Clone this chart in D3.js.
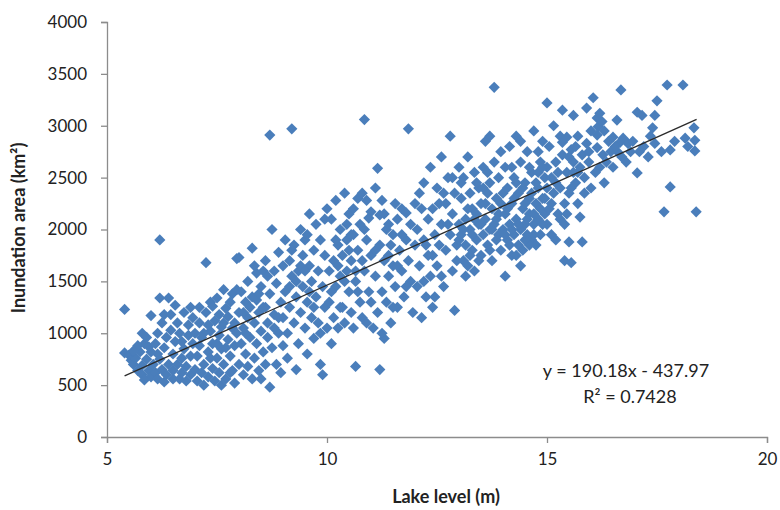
<!DOCTYPE html>
<html>
<head>
<meta charset="utf-8">
<script src="https://cdn.jsdelivr.net/npm/d3@7"></script>
<style>
  body { margin: 0; background: #fff; }
  svg text { font-family: Lato, "Liberation Sans", sans-serif; fill: #222; }
</style>
</head>
<body>
<svg id="chart" width="780" height="510"></svg>
<script>
// tick values
var xTicks = [5, 10, 15, 20];
var yTicks = [0, 500, 1000, 1500, 2000, 2500, 3000, 3500, 4000];

// linear fit reported on the chart
var fitSlope = 190.18;
var fitIntercept = -437.97;
var fitR2 = 0.7428;
var fitRange = [5.4, 18.4];

// [lake level (m), inundation area (km2)], by 1 m bands
var band5 = [[5.4,1230],[5.4,810],[5.5,790],[5.55,740],[5.6,700],[5.65,760],[5.7,640],[5.75,820],[5.8,690],[5.8,600],[5.85,900],[5.9,750],[5.9,960],[5.95,640],[6.0,580],[6.0,820],[5.7,880],[5.6,830],[5.85,550],[5.95,870],[6.0,1170],[5.8,1000]];
var band6 = [[6.05,700],[6.1,620],[6.1,900],[6.15,560],[6.15,1000],[6.2,750],[6.2,1900],[6.2,1340],[6.25,650],[6.25,1100],[6.3,530],[6.3,860],[6.35,960],[6.35,600],[6.4,1340],[6.4,700],[6.45,1180],[6.45,1030],[6.5,560],[6.5,800],[6.5,640],[6.55,920],[6.6,700],[6.6,1100],[6.65,560],[6.65,1000],[6.7,760],[6.7,620],[6.75,850],[6.75,1200],[6.8,540],[6.8,680],[6.85,980],[6.85,1080],[6.9,600],[6.9,780],[6.95,900],[6.95,1150],[7.0,650],[7.0,1000],[6.3,1180],[6.55,1270],[6.15,800],[6.7,920],[6.9,1250]];
var band7 = [[7.05,540],[7.05,780],[7.1,880],[7.1,1100],[7.15,620],[7.15,960],[7.2,500],[7.2,700],[7.25,1680],[7.25,1200],[7.3,820],[7.3,580],[7.35,1020],[7.35,1300],[7.4,660],[7.4,900],[7.45,540],[7.45,1120],[7.5,1340],[7.5,760],[7.55,980],[7.55,620],[7.6,1060],[7.6,850],[7.65,1420],[7.65,700],[7.7,560],[7.7,1240],[7.75,940],[7.75,1160],[7.8,780],[7.8,620],[7.85,1050],[7.85,1380],[7.9,880],[7.9,520],[7.95,1720],[7.95,1420],[7.95,1000],[8.0,1730],[8.0,700],[8.0,1200],[7.2,1000],[7.4,1260],[7.6,500],[7.8,1300],[7.1,1250],[7.3,1080],[7.55,1180],[7.7,860],[7.85,640],[7.5,900],[7.35,760],[7.65,1100],[7.9,1100]];
var band8 = [[8.05,1400],[8.05,900],[8.1,600],[8.1,1050],[8.15,1300],[8.15,800],[8.2,1150],[8.2,680],[8.25,960],[8.3,1820],[8.3,1350],[8.3,560],[8.35,1100],[8.35,760],[8.4,1580],[8.4,1320],[8.4,900],[8.45,1200],[8.45,640],[8.5,1020],[8.5,1450],[8.55,820],[8.55,1600],[8.6,1250],[8.6,700],[8.65,1100],[8.65,960],[8.7,2910],[8.7,480],[8.7,1380],[8.75,2000],[8.75,860],[8.8,1180],[8.8,1600],[8.85,700],[8.85,1480],[8.9,1000],[8.9,1780],[8.95,1300],[8.95,620],[9.0,1150],[9.0,1650],[9.0,880],[8.2,1500],[8.5,560],[8.6,1700],[8.25,1250],[8.45,1380],[8.8,1050],[8.15,1000],[8.65,1550],[8.9,1150],[8.35,1650],[8.1,1200],[8.55,1250]];
var band9 = [[9.05,1900],[9.05,1400],[9.1,1000],[9.1,760],[9.15,1250],[9.15,1700],[9.2,2970],[9.2,1550],[9.25,1100],[9.25,1850],[9.3,1350],[9.3,650],[9.35,1600],[9.35,900],[9.4,1200],[9.4,2000],[9.45,1450],[9.45,1750],[9.5,1050],[9.5,1900],[9.55,1300],[9.55,800],[9.6,1650],[9.6,2150],[9.65,1150],[9.65,1500],[9.7,1800],[9.7,950],[9.75,1350],[9.75,2050],[9.8,1600],[9.8,1100],[9.85,1900],[9.85,700],[9.9,600],[9.9,1450],[9.95,1250],[9.95,1750],[10.0,2200],[10.0,1050],[9.2,1800],[9.55,1950],[9.4,1650],[9.7,1250],[9.3,1500],[9.85,1000],[9.6,1400],[9.15,1450],[9.95,2100],[9.5,1600]];
var band10 = [[10.05,1300],[10.05,1600],[10.1,2100],[10.1,900],[10.15,1700],[10.15,1150],[10.2,2280],[10.2,1450],[10.25,1850],[10.25,1050],[10.3,1550],[10.3,2000],[10.35,1250],[10.35,1750],[10.4,2350],[10.4,1100],[10.45,1600],[10.45,1900],[10.5,1400],[10.5,2150],[10.55,1200],[10.55,1700],[10.6,1950],[10.6,1050],[10.65,680],[10.65,1500],[10.7,2300],[10.7,1800],[10.75,1300],[10.75,2050],[10.8,2350],[10.8,1150],[10.85,3060],[10.85,1600],[10.9,2280],[10.9,1900],[10.95,2110],[10.95,1400],[11.0,2170],[11.0,1750],[10.1,1400],[10.3,1250],[10.5,1800],[10.7,1400],[10.9,1100],[10.2,1900],[10.4,1500],[10.6,2200],[10.8,1700],[11.0,1300],[10.45,2050],[10.65,1600],[10.85,2000],[10.25,1650],[10.55,1950]];
var band11 = [[11.05,1050],[11.1,2400],[11.1,1550],[11.15,2590],[11.15,1200],[11.2,650],[11.2,2140],[11.2,1850],[11.25,2280],[11.25,1400],[11.3,1700],[11.3,950],[11.35,2000],[11.35,1300],[11.4,2050],[11.4,1550],[11.45,1850],[11.45,1100],[11.5,1950],[11.5,1650],[11.55,1450],[11.6,2100],[11.6,1250],[11.65,1800],[11.7,1600],[11.7,2200],[11.75,1350],[11.8,2160],[11.8,1900],[11.85,2970],[11.85,1700],[11.9,1500],[11.9,2050],[11.95,1200],[12.0,1850],[12.0,2250],[11.1,1800],[11.3,2150],[11.5,1250],[11.7,1950],[11.4,1750],[11.6,1650],[11.25,1000],[11.55,2250],[11.8,1450]];
var band12 = [[12.05,1450],[12.05,2000],[12.1,1650],[12.1,2350],[12.15,1150],[12.2,1900],[12.2,2450],[12.25,1350],[12.3,2100],[12.3,1750],[12.35,2600],[12.35,1550],[12.4,2200],[12.4,1250],[12.45,1950],[12.5,2400],[12.5,1650],[12.55,1850],[12.6,2050],[12.6,2700],[12.65,1450],[12.7,2250],[12.7,1800],[12.75,2500],[12.8,1950],[12.8,2900],[12.85,1600],[12.85,2150],[12.9,1220],[12.9,2350],[12.95,1850],[13.0,2050],[13.0,2600],[12.15,2200],[12.4,1750],[12.6,1550],[12.75,2050],[12.25,1850],[12.55,2250],[12.95,1700],[12.45,1350],[12.65,2350],[12.2,1500],[12.85,2500],[13.0,1900]];
var band13 = [[13.05,1950],[13.05,2300],[13.1,1700],[13.1,2500],[13.15,1850],[13.15,2100],[13.2,1650],[13.2,2700],[13.25,2000],[13.25,2350],[13.3,1800],[13.3,2200],[13.35,1600],[13.35,2550],[13.4,1900],[13.4,2150],[13.45,2050],[13.45,2400],[13.5,1750],[13.5,2250],[13.55,2600],[13.55,1950],[13.6,2100],[13.6,2850],[13.65,1850],[13.65,2350],[13.7,2000],[13.7,2450],[13.75,1700],[13.75,2200],[13.8,3370],[13.8,2050],[13.8,2650],[13.85,1900],[13.85,2300],[13.9,2150],[13.9,2500],[13.95,1800],[13.95,2750],[14.0,2000],[14.0,2350],[13.1,2000],[13.3,1950],[13.5,2050],[13.7,1800],[13.9,1950],[13.2,2200],[13.4,2450],[13.6,2250],[13.85,2100],[13.15,1550],[13.45,1700],[13.65,2550],[13.95,2250],[13.25,1750],[13.55,2400],[13.75,2000],[13.35,2100],[13.05,2450],[13.7,2900]];
var band14 = [[14.05,1550],[14.05,2150],[14.05,2600],[14.1,1900],[14.1,2400],[14.15,2050],[14.15,2800],[14.2,1750],[14.2,2250],[14.25,1950],[14.25,2500],[14.3,2100],[14.3,2900],[14.35,1850],[14.35,2350],[14.4,2000],[14.4,2650],[14.45,2200],[14.45,1800],[14.5,2450],[14.5,2050],[14.55,1950],[14.55,2750],[14.6,2300],[14.6,2150],[14.65,1900],[14.65,2550],[14.7,2050],[14.7,2950],[14.75,2250],[14.75,1850],[14.8,2400],[14.8,2100],[14.85,2650],[14.85,1950],[14.9,2300],[14.9,2850],[14.95,2150],[14.95,2500],[15.0,2050],[15.0,3220],[15.0,2600],[14.1,2200],[14.2,2000],[14.3,2450],[14.4,1650],[14.5,2250],[14.6,2600],[14.7,1950],[14.8,2750],[14.9,2050],[14.15,1850],[14.35,2050],[14.55,2100],[14.75,2450],[14.95,2300],[14.25,2300],[14.45,2400],[14.65,2350],[14.85,2200],[14.05,1950],[14.4,2850],[14.6,1850],[14.8,2550],[15.0,2400],[14.2,2600],[14.5,1900],[14.7,2150],[14.9,2600],[14.3,1750]];
var band15 = [[15.05,2200],[15.05,2800],[15.1,1950],[15.1,2500],[15.15,2350],[15.15,3000],[15.2,1900],[15.2,2650],[15.25,2150],[15.3,2900],[15.3,2400],[15.35,3150],[15.35,2720],[15.35,2840],[15.4,2250],[15.4,1700],[15.45,2890],[15.45,2550],[15.5,1880],[15.5,2350],[15.55,2770],[15.55,1680],[15.6,3100],[15.6,2650],[15.65,2450],[15.7,2900],[15.7,2250],[15.75,2120],[15.75,2600],[15.8,1880],[15.8,2720],[15.85,2500],[15.9,3170],[15.9,2830],[15.95,2650],[16.0,2400],[16.0,2950],[15.1,2250],[15.25,2550],[15.4,2050],[15.55,2400],[15.65,2800],[15.85,2350],[15.2,2450],[15.45,2150],[15.6,2550],[15.95,2750],[15.3,2100],[15.7,2550],[15.5,2700]];
var band16 = [[16.05,3270],[16.1,2550],[16.14,3075],[16.14,2910],[16.14,2790],[16.16,2990],[16.2,3120],[16.25,3040],[16.27,2720],[16.3,2450],[16.35,2650],[16.4,2850],[16.5,2890],[16.5,2600],[16.59,3055],[16.6,2750],[16.66,2840],[16.68,3345],[16.73,2880],[16.8,2650],[16.84,2830],[16.9,2750],[17.05,2545],[17.05,3130],[16.2,2600],[16.45,2750],[16.7,2700],[16.95,2850],[16.3,2950],[16.55,2800]];
var band17 = [[17.16,3100],[17.4,2980],[17.45,3100],[17.45,2830],[17.5,3240],[17.2,2800],[17.3,2700],[17.66,2170],[17.73,3393],[17.8,2767],[17.8,2410],[18.09,3393],[18.14,2880],[18.34,2980],[18.36,2860],[18.36,2757],[18.39,2170],[17.6,2750],[17.9,2850],[18.2,2800],[17.1,2750],[17.35,2900]];

var observations = [].concat(band5, band6, band7, band8, band9, band10, band11, band12, band13, band14, band15, band16, band17);

var svg = d3.select('#chart');

var x = d3.scaleLinear().domain([5, 20]).range([107, 767]);
var y = d3.scaleLinear().domain([0, 4000]).range([437, 22]);

// axes
var xAxis = svg.append('g')
    .attr('transform', 'translate(0,437)')
    .call(d3.axisBottom(x).tickValues(xTicks).tickSize(6).tickPadding(10).tickFormat(d3.format('d')));
var yAxis = svg.append('g')
    .attr('transform', 'translate(107,0)')
    .call(d3.axisLeft(y).tickValues(yTicks).tickSize(6).tickPadding(14).tickFormat(d3.format('d')));

[xAxis, yAxis].forEach(function(ax) {
    ax.select('.domain').attr('stroke', '#8c8c8c').attr('stroke-width', 1.3);
    ax.selectAll('.tick line').attr('stroke', '#8c8c8c').attr('stroke-width', 1.3);
    ax.selectAll('.tick text').style('font-size', '17px').attr('fill', '#333');
});

// markers
var diamond = 'M0,-5.6L5.6,0L0,5.6L-5.6,0Z';
svg.append('g').selectAll('path')
    .data(observations)
    .enter().append('path')
    .attr('d', diamond)
    .attr('transform', function(d) { return 'translate(' + x(d[0]) + ',' + y(d[1]) + ')'; })
    .attr('fill', '#4a7ebb');

// trendline
var fitLine = d3.line()
    .x(function(d) { return x(d); })
    .y(function(d) { return y(fitSlope * d + fitIntercept); });
svg.append('path')
    .datum(fitRange)
    .attr('d', fitLine)
    .attr('fill', 'none')
    .attr('stroke', '#2b2b2b')
    .attr('stroke-width', 1.3);

// equation
svg.append('text')
    .attr('x', 626).attr('y', 377)
    .attr('text-anchor', 'middle')
    .style('font-size', '18px')
    .text('y = ' + fitSlope + 'x - ' + Math.abs(fitIntercept));
svg.append('text')
    .attr('x', 630).attr('y', 403)
    .attr('text-anchor', 'middle')
    .style('font-size', '18px')
    .text('R\u00b2 = ' + fitR2);

// axis titles
svg.append('text')
    .attr('x', 446).attr('y', 503)
    .attr('text-anchor', 'middle')
    .style('font-size', '18px')
    .style('font-weight', 'bold')
    .text('Lake level (m)');
svg.append('text')
    .attr('transform', 'translate(25,228) rotate(-90)')
    .attr('text-anchor', 'middle')
    .style('font-size', '18px')
    .style('font-weight', 'bold')
    .text('Inundation area (km\u00b2)');
</script>
</body>
</html>
